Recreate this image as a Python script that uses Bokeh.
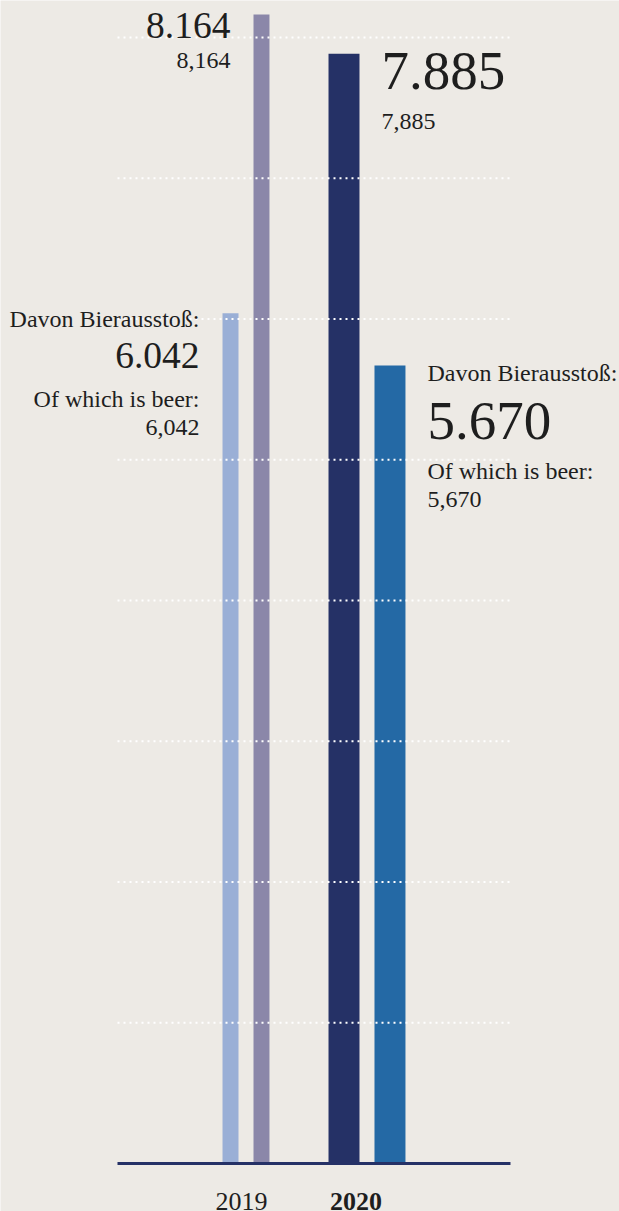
from bokeh.plotting import figure
from bokeh.models import Range1d
from bokeh.core.properties import value
from bokeh.embed import file_html
from bokeh.resources import INLINE

# ---- data ----
years = ["2019", "2020"]
total_output = [8164, 7885]      # Gesamtausstoß
beer_output = [6042, 5670]       # Davon Bierausstoß / Of which is beer
label_de = "Davon Bierausstoß:"
label_en = "Of which is beer:"
grid_ticks = [1000, 2000, 3000, 4000, 5000, 6000, 7000, 8000]

# ---- style ----
BG = "#EDEAE5"
TEXT = "#1E1E1E"
FONT = "Liberation Serif"
beer_colors = ["#9AAFD6", "#2469A5"]
total_colors = ["#8B87A9", "#253166"]
AXIS = "#253166"

# layout (x in year-index units)
beer_off = [-0.128, 0.190]
total_off = [0.128, -0.190]
bar_w = [0.132, 0.256]
plot_left, plot_right = -1.062, 2.186
year_label_dx = [-4.5, -11.0]
big_size = [37.5, 55]
small_size = 24
year_size = 26

p = figure(width=619, height=1211, output_backend="svg", toolbar_location=None,
           x_range=Range1d(-2.029, 3.087), y_range=Range1d(-341.1, 8263.5),
           min_border=0, x_axis_location=None, y_axis_location=None,
           background_fill_color=BG, border_fill_color=BG, outline_line_color=None)
p.xgrid.visible = False
p.ygrid.visible = False

bx = [i + o for i, o in enumerate(beer_off)]
tx = [i + o for i, o in enumerate(total_off)]
p.vbar(x=bx, top=beer_output, bottom=0, width=bar_w, fill_color=beer_colors, line_color=None)
p.vbar(x=tx, top=total_output, bottom=0, width=bar_w, fill_color=total_colors, line_color=None)

# dotted white gridlines drawn over bars
n = len(grid_ticks)
p.segment(x0=[plot_left] * n, x1=[plot_right] * n, y0=grid_ticks, y1=grid_ticks,
          line_color="white", line_dash="2 4", line_width=2)
# baseline
p.segment(x0=[plot_left], x1=[plot_right], y0=[0], y1=[0], line_color=AXIS, line_width=3)


def lab(x, y, text, size, align, xo, base, bold=False):
    # base: pixel distance of the text baseline below the anchor value
    yo = base - 0.32 * size
    p.text(x=[x], y=[y], text=[text], x_offset=xo, y_offset=yo,
           text_font=value(FONT), text_font_size=f"{size}px", text_color=TEXT,
           text_align=align, text_baseline="alphabetic",
           text_font_style="bold" if bold else "normal")


def de(v):
    return f"{v:,}".replace(",", ".")


def en(v):
    return f"{v:,}"

# 2019: labels to the left of bars; 2020: to the right
for i in range(2):
    w = bar_w[i]
    if i == 0:
        xt = tx[i] - w / 2
        xb = bx[i] - w / 2
        align, xo = "right", -23
    else:
        xt = tx[i] + w / 2
        xb = bx[i] + w / 2
        align, xo = "left", 22
    big_off = 23 if i == 0 else 35
    lab(xt, total_output[i], de(total_output[i]), big_size[i], align, xo, big_off)
    lab(xt, total_output[i], en(total_output[i]), small_size, align, xo, big_off + (31 if i == 0 else 40))
    d1 = 14 if i == 0 else 15
    lab(xb, beer_output[i], label_de, small_size, align, xo, d1)
    d2 = 54 if i == 0 else 73
    lab(xb, beer_output[i], de(beer_output[i]), big_size[i], align, xo, d2)
    lab(xb, beer_output[i], label_en, small_size, align, xo, d2 + 40)
    lab(xb, beer_output[i], en(beer_output[i]), small_size, align, xo, d2 + (68 if i == 0 else 69))
    lab(i, 0, years[i], year_size, "center", year_label_dx[i], 46, bold=(i == 1))

open("out.html", "w").write(file_html(p, INLINE))
